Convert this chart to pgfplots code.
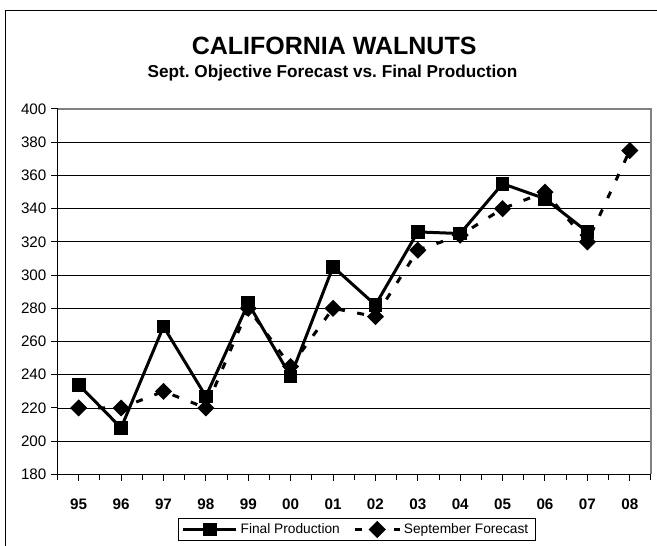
\documentclass[border=0pt]{standalone}
\usepackage{pgfplots}
\pgfplotsset{compat=1.18}
\usepackage{fontspec}
\setmainfont{Liberation Sans}
\pgfplotsset{
  prodleg/.code={\pgfplotsset{legend image code/.code={\draw[mark repeat=2,mark phase=2,##1] plot coordinates {(0pt,0pt) (19.9pt,0pt) (39.75pt,0pt)};}}},
  foreleg/.code={\pgfplotsset{legend image code/.code={\draw[mark repeat=2,mark phase=2,##1] plot coordinates {(0pt,0pt) (16.9pt,0pt) (33.75pt,0pt)};}}},
}
\begin{document}
\frenchspacing
\begin{tikzpicture}
\path[use as bounding box] (0,0) rectangle (492.75pt,409.5pt);
\clip (0,0) rectangle (492.75pt,409.5pt);
\draw[black, line width=0.75pt] (4.3pt,-5pt) -- (4.3pt,401.25pt) -- (510pt,401.25pt);
\node[anchor=base, font=\bfseries\fontsize{18.75}{20}\selectfont] at (250.6pt,368.25pt) {CALIFORNIA WALNUTS};
\node[anchor=base, font=\bfseries\fontsize{12.9}{14}\selectfont] at (249.4pt,351.5pt) {Sept. Objective Forecast vs. Final Production};
\begin{axis}[
  at={(43.125pt,53.7pt)}, anchor=south west,
  scale only axis, width=445.1pt, height=274.05pt,
  xmin=-0.5, xmax=13.5, ymin=180, ymax=400,
  xtick={0,...,13},
  xticklabels={95,96,97,98,99,00,01,02,03,04,05,06,07,08},
  minor xtick={-0.5,0.5,...,13.5},
  ytick={180,200,...,400},
  axis x line*=bottom, axis y line*=left,
  axis line style={-, black, line width=0.75pt},
  tick align=outside,
  major tick length=4.8pt, minor tick length=4.5pt,
  tick style={black, line width=0.75pt},
  ymajorgrids, major grid style={black, line width=0.6pt},
  xticklabel style={font=\bfseries\fontsize{11.4}{13}\selectfont, yshift=-10pt},
  yticklabel style={font=\fontsize{11.4}{13}\selectfont},
  /pgf/number format/assume math mode=true,
  clip=false,
  reverse legend,
  legend columns=2,
  legend cell align=left,
  legend style={at={(0.5038,-0.1508)}, anchor=center, draw=black, line width=0.6pt,
    font=\fontsize{10.3}{12}\selectfont,
    /tikz/every even column/.append style={column sep=8pt}},
]
\draw[gray, line width=1pt] (rel axis cs:0,1) -- (rel axis cs:1,1) -- (rel axis cs:1,0);
\addplot[black, line width=2.25pt, dash pattern=on 5.25pt off 9.4pt,
  mark=square*, mark size=3.4pt, mark options={solid, rotate=45}, foreleg]
  coordinates {(0,220) (1,220) (2,230) (3,220) (4,280) (5,245) (6,280) (7,275) (8,315) (9,324) (10,340) (11,350) (12,320) (13,375)};
\addlegendentry{September Forecast}
\addplot[black, line width=2.25pt, mark=square*, mark size=4pt, mark options={solid}, prodleg]
  coordinates {(0,234) (1,208) (2,269) (3,227) (4,283) (5,239) (6,305) (7,282) (8,326) (9,325) (10,355) (11,346) (12,326)};
\addlegendentry{Final Production}
\end{axis}
\end{tikzpicture}
\end{document}
